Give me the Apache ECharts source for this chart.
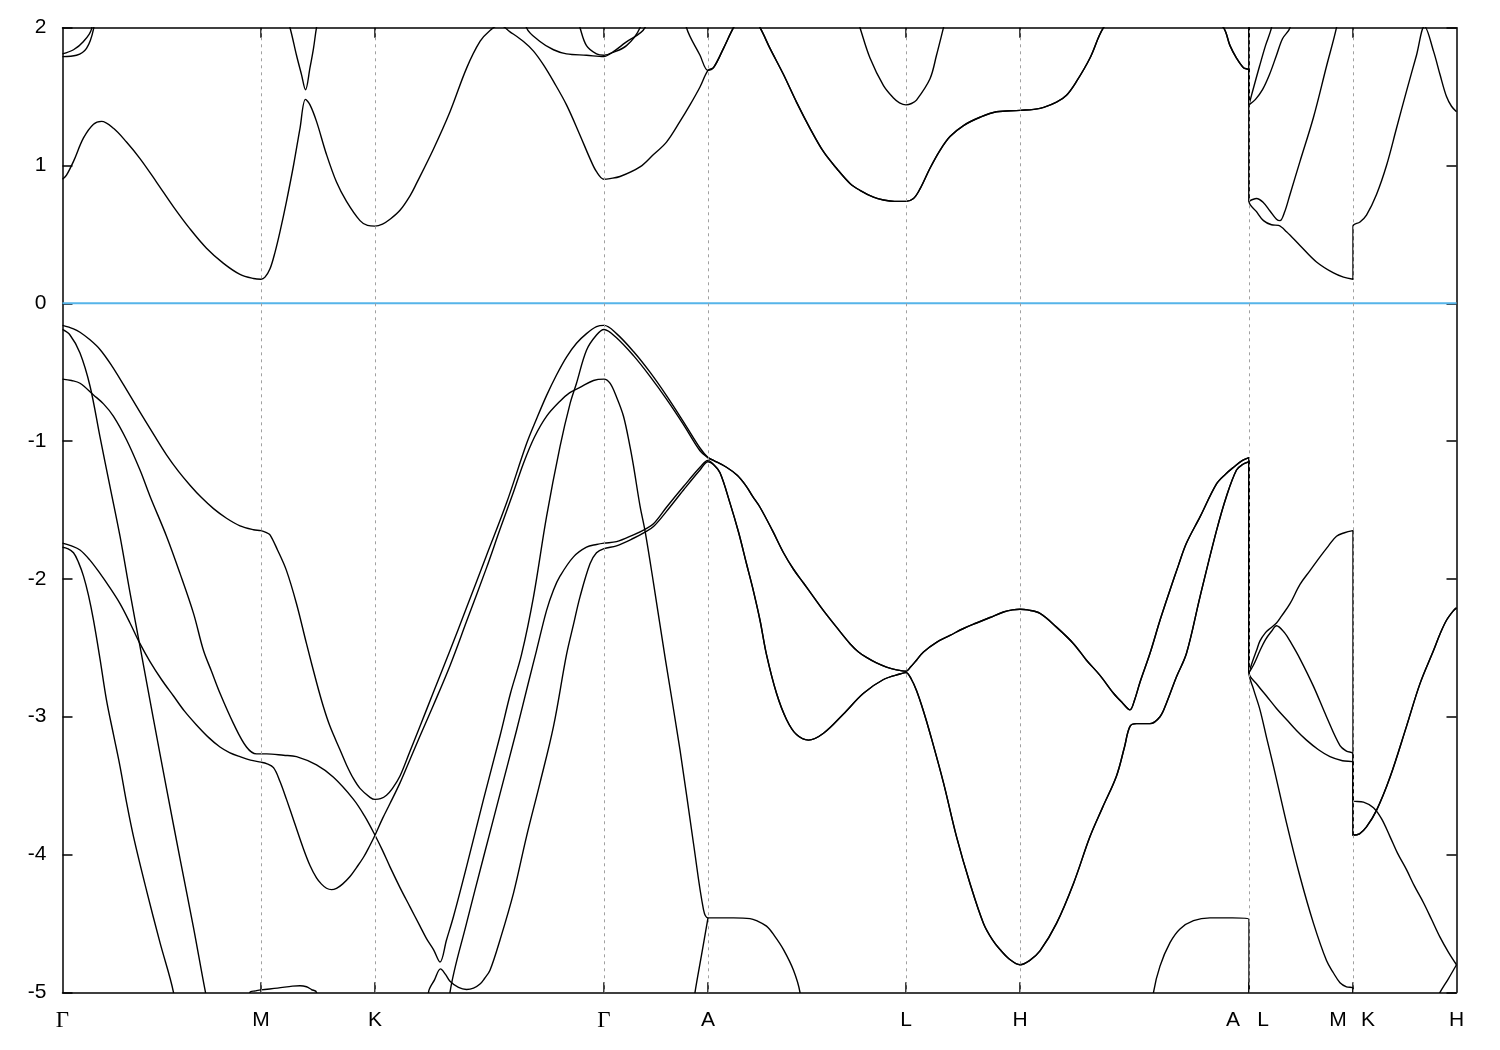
<!DOCTYPE html>
<html>
<head>
<meta charset="utf-8">
<script src="https://cdn.jsdelivr.net/npm/echarts@6/dist/echarts.min.js"></script>
<style>html,body{margin:0;padding:0;background:#fff}#c{width:1500px;height:1050px}</style>
</head>
<body>
<div id="c"></div>
<script>
// ---- k-path (arbitrary path-length units) ----
const tickPos = [198.5, 312.5, 541.5, 645.5, 843.5, 957.5, 1186.5, 1290.5];
const labelPos = [0, 198.5, 312.5, 541.5, 645.5, 843.5, 957.5, 1170.5, 1200.5, 1275.5, 1305.5, 1394];
const labelText = ['Γ', 'M', 'K', 'Γ', 'A', 'L', 'H', 'A', 'L', 'M', 'K', 'H'];
// k values where bands have a cusp (kept sharp when the curves are smoothed)
const cuspK = [243, 1362, 377.5, 378, 1067.5];

// ---- conduction bands (E in eV) ----
const cb1_GMKGA = [[0,0.90],[4,0.93],[11,1.03],[21,1.20],[31,1.30],[39,1.32],[51,1.27],[64,1.17],[77.5,1.05],[94,0.88],[111,0.70],[127.5,0.54],[144,0.40],[161,0.29],[177.5,0.21],[191,0.18],[198.5,0.175],
 [202.5,0.19],[207.5,0.25],[212.5,0.37],[217.5,0.52],[224,0.74],[231,1.00],[237.5,1.27],[243,1.48],[247.5,1.44],[254,1.32],[264,1.08],[274,0.88],[284,0.74],[297.5,0.60],[305,0.565],[312.5,0.56],
 [320,0.575],[327.5,0.61],[337.5,0.675],[347.5,0.78],[354,0.87],[371,1.12],[387.5,1.39],[404,1.705],[417.5,1.90],[427.5,1.98],[437,2.02],[447.5,1.97],[461,1.90],[471,1.83],[481,1.73],[491,1.61],[504,1.44],[517.5,1.22],[527.5,1.05],[534,0.955],[541.5,0.90],
 [547.5,0.905],[557.5,0.92],[577.5,0.99],[591,1.08],[604,1.17],[617.5,1.32],[627.5,1.44],[637.5,1.57],[645.5,1.69]];
const cb_ALHA = [[651,1.71],[661,1.85],[671,2.0],[684,2.15],[697.5,2.0],[707.5,1.85],[721,1.66],[734,1.46],[747.5,1.27],[761,1.10],[774,0.98],[787.5,0.87],[797.5,0.82],[811,0.77],[821,0.75],[832,0.74],[843.5,0.74],
 [851,0.76],[857.5,0.83],[867.5,0.98],[877.5,1.11],[887.5,1.21],[901,1.29],[917.5,1.35],[934,1.39],[957.5,1.40],
 [977.5,1.415],[994,1.46],[1004,1.51],[1014,1.61],[1027.5,1.78],[1041,2.0],[1100,2.6],[1161,2.0],[1167.5,1.87],[1174,1.78],[1181,1.71],[1186.5,1.69]];
const cb1_LMKH = [[1186.5,0.74],[1194,0.665],[1201,0.60],[1209,0.57],[1216,0.565],[1224,0.52],[1237.5,0.42],[1254,0.30],[1271,0.22],[1281,0.19],[1290.5,0.175],
 [1290.5,0.56],[1297.5,0.59],[1304,0.64],[1314,0.79],[1324,1.00],[1334,1.27],[1344,1.54],[1354,1.80],[1362,2.01],[1371,1.83],[1377.5,1.66],[1384,1.50],[1389,1.43],[1394,1.39]];
const cb2_GMKGA = [[0,1.79],[14,1.80],[24,1.85],[31,1.99],[40,2.4],[130,2.9],[215,2.3],[227.5,2.0],[234,1.80],[239,1.66],[243,1.55],[247.5,1.71],[251,1.85],[254,2.0],[262,2.3],[400,2.9],[455,2.3],[464,2.0],[477.5,1.90],[491,1.84],[504,1.81],[524,1.80],[541.5,1.79],[547.5,1.81],[564,1.87],[577.5,2.0],[590,2.3],[612,2.4],[624,2.0],[637.5,1.80],[645.5,1.69]];
const cb2_LM = [[1186.5,0.74],[1194,0.76],[1201,0.73],[1207.5,0.67],[1214,0.61],[1217.5,0.60],[1222,0.66],[1227.5,0.79],[1237.5,1.03],[1251,1.35],[1264,1.72],[1274,2.0],[1282,2.3],[1290.5,2.5]];
const cb3 = [[0,1.81],[11,1.84],[21,1.90],[29,1.99],[38,2.4],[300,2.9],[505,2.3],[517.5,2.0],[524,1.87],[534,1.81],[541.5,1.80],[549.5,1.82],[562.5,1.89],[582.5,2.0],[600,2.4],[780,2.4],[797.5,2.0],[807.5,1.78],[821,1.58],[831,1.49],[837,1.455],[843.5,1.44],[849,1.45],[854,1.475],[867.5,1.63],[874,1.80],[881,2.0],[895,2.4],[1186.5,2.5],[1186.5,1.44],[1190.5,1.55],[1197,1.72],[1203,1.87],[1209,2.0],[1220,2.4]];
const cb4 = [[1186.5,2.5],[1186.5,1.44],[1193,1.48],[1200,1.55],[1207,1.66],[1214,1.80],[1220,1.92],[1227.5,2.0],[1240,2.4]];

// ---- valence bands (E in eV) ----
const vbA_GMKGA = [[0,-0.16],[11,-0.185],[17.5,-0.21],[27.5,-0.265],[37.5,-0.335],[49,-0.45],[61,-0.59],[77.5,-0.79],[91,-0.95],[104,-1.10],[116,-1.22],[127.5,-1.32],[139,-1.41],[151,-1.49],[164,-1.56],[177.5,-1.615],[191,-1.643],[198.5,-1.65],
 [204,-1.665],[207.5,-1.68],[215,-1.79],[224,-1.94],[234,-2.18],[244,-2.47],[254,-2.75],[261,-2.93],[267.5,-3.07],[277.5,-3.24],[284,-3.35],[291,-3.45],[297.5,-3.52],[307.5,-3.585],[312.5,-3.60],
 [318,-3.595],[324,-3.57],[330,-3.52],[337.5,-3.43],[347.5,-3.25],[357.5,-3.07],[371,-2.82],[387.5,-2.52],[404,-2.21],[424,-1.83],[444,-1.45],[464,-1.02],[474,-0.84],[484,-0.67],[494,-0.52],[504,-0.39],[514,-0.29],[524,-0.22],[534,-0.17],[541.5,-0.16],
 [554,-0.22],[571,-0.35],[587.5,-0.50],[604,-0.67],[621,-0.86],[637.5,-1.05],[645.5,-1.12]];
const vb_ALHA_upper = [[651,-1.14],[664,-1.19],[675,-1.25],[684,-1.33],[690,-1.40],[697.5,-1.48],[710,-1.65],[721,-1.81],[731,-1.93],[741,-2.03],[751,-2.13],[761,-2.23],[774,-2.35],[787.5,-2.47],[796,-2.53],[804,-2.57],[814,-2.61],[824,-2.64],[834,-2.66],[843.5,-2.67],
 [848,-2.64],[854,-2.59],[861,-2.53],[874,-2.46],[887.5,-2.41],[901,-2.36],[914,-2.32],[927.5,-2.28],[941,-2.24],[950,-2.225],[957.5,-2.22],
 [965,-2.225],[977.5,-2.25],[994,-2.35],[1011,-2.47],[1024,-2.59],[1037.5,-2.70],[1051,-2.83],[1060,-2.90],[1067.5,-2.95],[1072,-2.88],[1077.5,-2.75],[1087.5,-2.54],[1097.5,-2.30],[1107.5,-2.08],[1116,-1.90],[1124,-1.74],[1137.5,-1.55],[1154,-1.31],[1163,-1.24],[1171,-1.19],[1180,-1.14],[1186.5,-1.12]];
const vbA_LMKH = [[1186.5,-2.68],[1190,-2.60],[1194,-2.52],[1197.5,-2.45],[1203,-2.39],[1207.5,-2.36],[1214,-2.32],[1219,-2.27],[1227.5,-2.18],[1237.5,-2.04],[1247.5,-1.94],[1257.5,-1.84],[1266,-1.76],[1274,-1.69],[1282,-1.665],[1290.5,-1.65],
 [1290.5,-3.61],[1301,-3.62],[1311,-3.66],[1319,-3.74],[1327.5,-3.87],[1335,-3.99],[1344,-4.11],[1352,-4.23],[1361,-4.35],[1369,-4.47],[1377.5,-4.60],[1386,-4.71],[1394,-4.80]];
const vbC_GMKGA = [[0,-0.55],[9,-0.56],[17.5,-0.58],[31,-0.665],[41,-0.73],[51,-0.82],[64,-0.99],[77.5,-1.21],[87.5,-1.40],[104,-1.69],[117.5,-1.96],[131,-2.25],[141,-2.52],[149,-2.67],[157.5,-2.83],[171,-3.05],[184,-3.22],[194,-3.27],[198.5,-3.27],
 [204,-3.27],[221,-3.28],[234,-3.29],[254,-3.35],[271,-3.44],[291,-3.60],[302,-3.72],[312.5,-3.86],
 [320,-3.97],[327.5,-4.09],[337.5,-4.24],[347.5,-4.38],[357.5,-4.52],[364,-4.61],[371,-4.69],[377.5,-4.78],[384,-4.62],[391,-4.45],[404,-4.09],[421,-3.60],[437.5,-3.14],[448,-2.83],[459,-2.55],[471,-2.13],[484,-1.55],[497.5,-1.04],[507.5,-0.73],[514,-0.58],[524,-0.34],[534,-0.23],[541.5,-0.19],
 [554,-0.25],[571,-0.38],[587.5,-0.53],[604,-0.695],[621,-0.88],[637.5,-1.07],[645.5,-1.12]];
const vbC_LM = [[1186.5,-2.68],[1191,-2.625],[1197.5,-2.52],[1203,-2.44],[1209,-2.38],[1214,-2.34],[1222,-2.39],[1229,-2.47],[1237.5,-2.58],[1251,-2.78],[1264,-3.0],[1277.5,-3.21],[1284,-3.25],[1290.5,-3.27],[1290.5,-3.86]];
const vb_KH_rise = [[1297,-3.85],[1304,-3.80],[1314,-3.68],[1327.5,-3.44],[1344,-3.07],[1357.5,-2.76],[1371,-2.52],[1377.5,-2.40],[1384,-2.30],[1391,-2.23],[1394,-2.21]];
const vbB_GMKGA = [[0,-0.19],[7.5,-0.23],[17.5,-0.36],[27.5,-0.60],[37.5,-0.97],[47.5,-1.33],[57.5,-1.69],[67.5,-2.10],[77.5,-2.49],[91,-3.02],[104,-3.52],[117.5,-4.03],[131,-4.53],[143,-5.0],[160,-5.6],
 [380,-5.6],[387.5,-5.0],[404,-4.50],[421,-4.02],[437.5,-3.56],[454,-3.10],[466,-2.75],[474,-2.52],[484,-2.23],[491,-2.08],[497.5,-1.98],[511,-1.84],[524,-1.77],[534,-1.75],[541.5,-1.74],
 [554,-1.73],[571,-1.68],[582.5,-1.64],[591,-1.60],[604,-1.48],[621,-1.33],[637.5,-1.19],[645.5,-1.14]];
const vb_ALHA_lower = [[651,-1.17],[657.5,-1.23],[667.5,-1.45],[676,-1.66],[684,-1.89],[690,-2.06],[697.5,-2.30],[704,-2.55],[714,-2.83],[724,-3.02],[734,-3.13],[746,-3.17],[761,-3.12],[781,-2.98],[801,-2.83],[821,-2.73],[837.5,-2.69],[843.5,-2.68],
 [849,-2.73],[854,-2.81],[861,-2.96],[867.5,-3.12],[881,-3.48],[894,-3.87],[907.5,-4.21],[921,-4.50],[930,-4.62],[937.5,-4.69],[947,-4.76],[957.5,-4.80],
 [967,-4.77],[977.5,-4.70],[994,-4.50],[1011,-4.21],[1027.5,-3.87],[1040,-3.66],[1054,-3.43],[1062,-3.22],[1067.5,-3.07],[1074,-3.05],[1087.5,-3.05],[1097.5,-3.0],[1104,-2.90],[1114,-2.71],[1124,-2.54],[1137.5,-2.13],[1154,-1.65],[1164,-1.40],[1174,-1.21],[1180,-1.17],[1186.5,-1.15]];
const vbB_LM = [[1186.5,-2.68],[1195,-2.77],[1204,-2.85],[1214,-2.94],[1224,-3.02],[1234,-3.10],[1244,-3.17],[1256,-3.24],[1267.5,-3.29],[1280,-3.32],[1290.5,-3.33],[1290.5,-3.86]];
const vbE_GMKGA = [[0,-1.77],[5,-1.78],[11,-1.81],[16,-1.88],[21,-1.98],[26,-2.12],[31,-2.30],[37.5,-2.58],[44,-2.88],[51,-3.13],[57.5,-3.36],[64,-3.62],[71,-3.87],[84,-4.26],[97.5,-4.64],[111,-5.0],[125,-5.6],
 [360,-5.6],[366,-5.0],[372,-4.91],[378,-4.83],[383,-4.87],[387.5,-4.92],[396,-4.965],[404,-4.98],[411,-4.97],[417.5,-4.94],[422,-4.90],[427.5,-4.84],[437.5,-4.62],[451,-4.28],[464,-3.87],[477.5,-3.48],[491,-3.07],[504,-2.55],[511,-2.33],[517.5,-2.13],[527.5,-1.89],[534,-1.81],[541.5,-1.78],
 [554,-1.76],[571,-1.705],[582.5,-1.66],[591,-1.62],[604,-1.51],[621,-1.355],[637.5,-1.21],[645.5,-1.15]];
const vbE_LMKH = [[1186.5,-2.68],[1191,-2.80],[1197.5,-2.95],[1204,-3.15],[1211,-3.36],[1224,-3.77],[1237.5,-4.16],[1251,-4.50],[1264,-4.77],[1271,-4.86],[1277.5,-4.93],[1284,-4.96],[1290.5,-4.97],
 [1290.5,-5.6],[1360,-5.22],[1377.5,-5.0],[1386,-4.90],[1394,-4.80]];
const vbD = [[0,-1.74],[9,-1.76],[17.5,-1.79],[27,-1.86],[37.5,-1.96],[47,-2.06],[57.5,-2.18],[67.5,-2.32],[77.5,-2.47],[87.5,-2.60],[99,-2.73],[111,-2.85],[122,-2.96],[134,-3.06],[146,-3.15],[157.5,-3.22],[167,-3.26],[177.5,-3.29],[188,-3.315],[198.5,-3.33],
 [204,-3.34],[211,-3.37],[217.5,-3.47],[224,-3.60],[232,-3.77],[241,-3.96],[247.5,-4.08],[254,-4.17],[259,-4.215],[264,-4.245],[269,-4.255],[274,-4.245],[280,-4.215],[287.5,-4.16],[294,-4.095],[301,-4.02],[307,-3.94],[312.5,-3.86],
 [320,-3.74],[327.5,-3.63],[337.5,-3.48],[347.5,-3.31],[357.5,-3.14],[371,-2.915],[387.5,-2.63],[404,-2.31],[424,-1.92],[437.5,-1.64],[450,-1.39],[461,-1.16],[472,-0.97],[484,-0.82],[497.5,-0.71],[507,-0.65],[517.5,-0.61],[531,-0.56],[541.5,-0.55],
 [547.5,-0.58],[554,-0.68],[561,-0.82],[567.5,-1.04],[571,-1.18],[577.5,-1.47],[582.5,-1.65],[591,-2.03],[603,-2.59],[617.5,-3.24],[631,-3.92],[641,-4.40],[645.5,-4.46],
 [651,-4.46],[671,-4.46],[687.5,-4.465],[694,-4.48],[704,-4.52],[712,-4.59],[721,-4.69],[731,-4.84],[737.5,-5.0],[750,-5.6],
 [1080,-5.6],[1091,-5.0],[1097.5,-4.81],[1107.5,-4.64],[1117.5,-4.54],[1131,-4.48],[1147.5,-4.46],[1170,-4.46],[1186.5,-4.47],[1186.5,-5.6],[1394,-5.6]];
const vbF = [[0,-5.6],[175,-5.6],[187.5,-5.0],[193,-4.99],[198.5,-4.982],[215,-4.97],[230,-4.955],[237.5,-4.952],[244,-4.96],[249,-4.98],[254,-5.0],[262,-5.6],[620,-5.6],[632.5,-5.0],[639,-4.73],[645.5,-4.46]];
const fermiLine = [[0,0],[1394,0]];

const bands = [
  cb1_GMKGA.concat(cb_ALHA, cb1_LMKH),
  cb2_GMKGA.concat(cb_ALHA, cb2_LM),
  cb3, cb4,
  vbA_GMKGA.concat(vb_ALHA_upper, vbA_LMKH),
  vbC_GMKGA.concat(vb_ALHA_upper, vbC_LM, vb_KH_rise),
  vbB_GMKGA.concat(vb_ALHA_lower, vbB_LM, vb_KH_rise),
  vbE_GMKGA.concat(vb_ALHA_lower, vbE_LMKH),
  vbD, vbF
];

// repeat the points at high-symmetry k and at cusps so the smoothed curve keeps a corner there
const cornerK = tickPos.concat(cuspK);
function withCorners(pts) {
  const out = [];
  pts.forEach(p => {
    out.push(p);
    if (cornerK.some(k => Math.abs(k - p[0]) < 1e-6)) out.push([p[0], p[1]]);
  });
  return out;
}

const FONT = 'Liberation Sans, Arial, sans-serif';
const axisLineStyle = { color: '#000', width: 1.5 };

function labelFmt(v) {
  let i = -1;
  for (let j = 0; j < labelPos.length; j++) if (Math.abs(labelPos[j] - v) < 0.01) i = j;
  if (i < 0) return '';
  return labelText[i] === 'Γ' ? '{g|Γ}' : labelText[i];
}

const chart = echarts.init(document.getElementById('c'), null, { renderer: 'canvas' });
const series = [
  {
    type: 'line', data: [], silent: true, z: 1,
    markLine: {
      silent: true, symbol: ['none', 'none'], animation: false,
      label: { show: false },
      lineStyle: { color: '#a0a0a0', type: [3, 4], width: 1 },
      data: tickPos.map(v => ({ xAxis: v }))
    }
  },
  {
    type: 'line', data: fermiLine, showSymbol: false, symbol: 'none', silent: true, z: 2,
    lineStyle: { color: '#56b4e9', width: 2 }
  }
].concat(bands.map(b => ({
  type: 'line', data: withCorners(b), showSymbol: false, symbol: 'none', silent: true, z: 3, clip: true,
  smooth: 0.35,
  lineStyle: { color: '#000', width: 1.4, join: 'round' }
})));

chart.setOption({
  animation: false,
  backgroundColor: '#fff',
  grid: { left: 62.5, right: 43.5, top: 27.7, bottom: 57.7, containLabel: false },
  xAxis: [
    {
      type: 'value', min: 0, max: 1394, position: 'bottom',
      axisLine: { show: true, onZero: false, lineStyle: axisLineStyle },
      axisTick: { show: true, inside: true, length: 10, customValues: tickPos, lineStyle: axisLineStyle },
      axisLabel: {
        show: true, customValues: labelPos, formatter: labelFmt, margin: 17,
        fontSize: 21, color: '#000', fontFamily: FONT, showMinLabel: true, showMaxLabel: true,
        rich: { g: { fontFamily: 'Liberation Serif, DejaVu Serif, serif', fontSize: 23, color: '#000' } }
      },
      splitLine: { show: false }
    },
    {
      type: 'value', min: 0, max: 1394, position: 'top',
      axisLine: { show: true, onZero: false, lineStyle: axisLineStyle },
      axisTick: { show: true, inside: true, length: 10, customValues: tickPos, lineStyle: axisLineStyle },
      axisLabel: { show: false },
      splitLine: { show: false }
    }
  ],
  yAxis: [
    {
      type: 'value', min: -5, max: 2, interval: 1, position: 'left',
      axisLine: { show: true, onZero: false, lineStyle: axisLineStyle },
      axisTick: { show: true, inside: true, length: 10, lineStyle: axisLineStyle },
      axisLabel: { show: true, margin: 16, fontSize: 21, color: '#000', fontFamily: FONT },
      splitLine: { show: false }
    },
    {
      type: 'value', min: -5, max: 2, interval: 1, position: 'right',
      axisLine: { show: true, onZero: false, lineStyle: axisLineStyle },
      axisTick: { show: true, inside: true, length: 10, lineStyle: axisLineStyle },
      axisLabel: { show: false },
      splitLine: { show: false }
    }
  ],
  series: series
});
</script>
</body>
</html>
